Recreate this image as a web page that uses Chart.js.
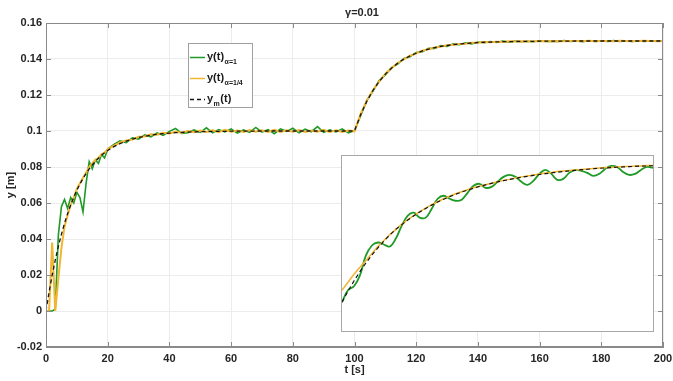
<!DOCTYPE html>
<html>
<head>
<meta charset="utf-8">
<script src="https://cdn.jsdelivr.net/npm/chart.js@4.4.1/dist/chart.umd.min.js"></script>
<style>
body { margin: 0; background: #fff; }
#wrap { position: relative; width: 673px; height: 381px; }
#inset { position: absolute; left: 341px; top: 155px; width: 311px; height: 175px; border: 1px solid #a8a8a8; background: #fff; }
#inset canvas { display: block; }
</style>
</head>
<body>
<div id="wrap">
  <canvas id="mainChart" width="673" height="381"></canvas>
  <div id="inset"><canvas id="zoomChart" width="311" height="175"></canvas></div>
</div>
<script>
// time axis [s]
var t = [0, 1, 2, 3, 4, 5, 6, 7, 8, 9, 10, 11, 12, 13, 14, 15, 16, 17, 18, 19, 20,
  22, 24, 26, 28, 30, 32, 34, 36, 38, 40, 42, 44, 46, 48, 50, 52, 54, 56, 58, 60,
  62, 64, 66, 68, 70, 72, 74, 76, 78, 80, 82, 84, 86, 88, 90, 92, 94, 96, 98, 100,
  102, 104, 106, 108, 110, 112, 114, 116, 118, 120, 122, 124, 126, 128, 130, 132, 134, 136, 138, 140,
  142, 144, 146, 148, 150, 152, 154, 156, 158, 160, 162, 164, 166, 168, 170, 172, 174, 176, 178, 180,
  182, 184, 186, 188, 190, 192, 194, 196, 198, 200];

// y(t) alpha=1
var yAlpha1 = [0, 0, 0, 0.001, 0.042, 0.058, 0.062, 0.057, 0.063, 0.060, 0.066, 0.063, 0.055, 0.071, 0.083, 0.079, 0.084, 0.082, 0.087, 0.085, 0.090,
  0.0925, 0.0945, 0.0936, 0.0962, 0.0955, 0.0978, 0.0968, 0.0990, 0.0976, 0.0998, 0.1014, 0.0986, 0.0991, 0.1006, 0.0992, 0.1018, 0.0990, 0.1008, 0.0995, 0.1012,
  0.0988, 0.1006, 0.0993, 0.1020, 0.0994, 0.1008, 0.0985, 0.1012, 0.0998, 0.1015, 0.0990, 0.1010, 0.0996, 0.1024, 0.0992, 0.1006, 0.0995, 0.1012, 0.0990, 0.1002,
  0.1085, 0.1170, 0.1222, 0.1280, 0.1312, 0.1352, 0.1372, 0.1403, 0.1413, 0.1436, 0.1440, 0.1460, 0.1458, 0.1474, 0.1470, 0.1484, 0.1479, 0.1490, 0.1484, 0.1494,
  0.1490, 0.1497, 0.1492, 0.1499, 0.1494, 0.1500, 0.1496, 0.1499, 0.1496, 0.1501, 0.1497, 0.1499, 0.1498, 0.1502, 0.1497, 0.1500, 0.1496, 0.1501, 0.1498, 0.1500,
  0.1497, 0.1502, 0.1498, 0.1500, 0.1497, 0.1501, 0.1498, 0.1501, 0.1499, 0.1500];

// y(t) alpha=1/4
var yAlphaQ = [0, 0, 0.038, 0, 0.018, 0.035, 0.047, 0.053, 0.059, 0.063, 0.068, 0.071, 0.074, 0.077, 0.080, 0.082, 0.084, 0.085, 0.087, 0.088, 0.090,
  0.0918, 0.0936, 0.0948, 0.0952, 0.0968, 0.0970, 0.0982, 0.0979, 0.0990, 0.0986, 0.0996, 0.0990, 0.1000, 0.0993, 0.1003, 0.0995, 0.1004, 0.0994, 0.1006, 0.0996,
  0.1003, 0.0994, 0.1005, 0.0996, 0.1004, 0.0995, 0.1006, 0.0995, 0.1004, 0.0996, 0.1005, 0.0995, 0.1003, 0.0996, 0.1006, 0.0995, 0.1004, 0.0994, 0.1003, 0.0998,
  0.1095, 0.1168, 0.1228, 0.1274, 0.1318, 0.1348, 0.1378, 0.1398, 0.1418, 0.1431, 0.1446, 0.1454, 0.1464, 0.1469, 0.1476, 0.1479, 0.1484, 0.1485, 0.1490, 0.1490,
  0.1494, 0.1493, 0.1496, 0.1495, 0.1498, 0.1497, 0.1499, 0.1497, 0.1499, 0.1498, 0.1500, 0.1498, 0.1500, 0.1499, 0.1500, 0.1500, 0.1499, 0.1501, 0.1499, 0.1500,
  0.1500, 0.1499, 0.1501, 0.1500, 0.1499, 0.1500, 0.1501, 0.1500, 0.1499, 0.1500];

// y_m(t) reference model
var yModel = [0, 0.0105, 0.0199, 0.0283, 0.0359, 0.0426, 0.0487, 0.0541, 0.0589, 0.0632, 0.0671, 0.0705, 0.0736, 0.0764, 0.0789, 0.0811, 0.0831, 0.0849, 0.0865, 0.0879, 0.0892,
  0.0913, 0.0930, 0.0944, 0.0955, 0.0964, 0.0971, 0.0977, 0.0982, 0.0985, 0.0988, 0.0991, 0.0992, 0.0994, 0.0995, 0.0996, 0.0997, 0.0998, 0.0998, 0.0998, 0.0999,
  0.0999, 0.0999, 0.0999, 0.1, 0.1, 0.1, 0.1, 0.1, 0.1, 0.1, 0.1, 0.1, 0.1, 0.1, 0.1, 0.1, 0.1, 0.1, 0.1, 0.1,
  0.1091, 0.1165, 0.1226, 0.1275, 0.1316, 0.1349, 0.1377, 0.1399, 0.1417, 0.1432, 0.1445, 0.1455, 0.1463, 0.1470, 0.1475, 0.1480, 0.1483, 0.1486, 0.1489, 0.1491,
  0.1493, 0.1494, 0.1495, 0.1496, 0.1497, 0.1497, 0.1498, 0.1498, 0.1498, 0.1499, 0.1499, 0.1499, 0.1499, 0.1499, 0.1499, 0.15, 0.15, 0.15, 0.15, 0.15,
  0.15, 0.15, 0.15, 0.15, 0.15, 0.15, 0.15, 0.15, 0.15, 0.15];

// inset (magnified view, no axes) - arbitrary units
var zx = [0, 6, 12, 18, 24, 30, 36, 42, 48, 54, 60, 66, 72, 78, 84, 90, 96, 102, 108, 114,
  120, 126, 132, 138, 144, 150, 156, 162, 168, 174, 180, 186, 192, 198, 204, 210, 216, 222, 228, 234,
  240, 246, 252, 258, 264, 270, 276, 282, 288, 294, 300, 306, 312];
var zAlpha1 = [29, 41, 45, 56, 76, 86, 89, 87, 85, 93, 106, 116, 119, 114, 114, 123, 133, 136, 133, 131,
  132, 139, 146, 148, 144, 145, 150, 155, 157, 155, 150, 147, 151, 158, 162, 158, 152, 153, 159, 162,
  161, 159, 156, 158, 163, 166, 165, 160, 157, 158, 162, 165, 164];
var zAlphaQ = [41, 49, 57, 64, 71, 78, 85, 91, 97, 102, 107.5, 112, 116, 120, 123.5, 127, 130, 133, 135.5, 138,
  140, 142, 144, 145.5, 147, 148.5, 150, 151.5, 152.5, 154, 155, 156, 157, 158, 159, 159.5, 160.5, 161, 161.5, 162,
  162.5, 163, 163.5, 164, 164.5, 164.5, 165, 165.5, 165.5, 166, 166, 166.5, 166.5];
var zModel = [29, 40.1, 50.3, 59.7, 68.4, 76.4, 83.7, 90.4, 96.6, 102.3, 107.0, 111.6, 115.8, 119.7, 123.3, 126.6, 129.7, 132.5, 135.1, 137.5,
  139.7, 141.7, 143.6, 145.4, 147.0, 148.5, 149.9, 151.2, 152.4, 153.5, 154.6, 155.6, 156.5, 157.4, 158.2, 159.0, 159.7, 160.4, 161.0, 161.6,
  162.2, 162.7, 163.2, 163.6, 164.0, 164.4, 164.7, 165.0, 165.3, 165.6, 165.8, 166.0, 166.2];

var plotTitle = "\u03b3=0.01";
var xLabel = "t [s]";
var yLabel = "y [m]";
var legendItems = [
  { main: "y(t)", sub: "\u03b1=1", tail: "" },
  { main: "y(t)", sub: "\u03b1=1/4", tail: "" },
  { main: "y", sub: "m", tail: "(t)" }
];

var GREEN = "#1f9a26";
var ORANGE = "#f1b531";
var BLACK = "#141414";
var FONT = "'Liberation Sans', Arial, sans-serif";

function pts(xs, ys) {
  return xs.map(function(x, i) { return { x: x, y: ys[i] }; });
}

var framePlugin = {
  id: "frame",
  afterDraw: function(chart) {
    var c = chart.ctx;
    var a = chart.chartArea;
    var xs = chart.scales.x;
    var ys = chart.scales.y;
    c.save();
    c.strokeStyle = "#8a8a8a";
    c.lineWidth = 1;
    c.strokeRect(a.left + 0.5, a.top + 0.5, a.right - a.left - 1, a.bottom - a.top - 1);
    c.beginPath();
    xs.ticks.forEach(function(tk) {
      var px = Math.round(xs.getPixelForValue(tk.value)) + 0.5;
      c.moveTo(px, a.bottom); c.lineTo(px, a.bottom - 5);
      c.moveTo(px, a.top); c.lineTo(px, a.top + 5);
    });
    ys.ticks.forEach(function(tk) {
      var py = Math.round(ys.getPixelForValue(tk.value)) + 0.5;
      c.moveTo(a.left, py); c.lineTo(a.left + 5, py);
      c.moveTo(a.right, py); c.lineTo(a.right - 5, py);
    });
    c.stroke();

    // title
    c.fillStyle = "#262626";
    c.font = "bold 11px " + FONT;
    c.textAlign = "center";
    c.textBaseline = "middle";
    c.fillText(plotTitle, 362, 13);

    // legend box
    var lx = 188, ly = 43, lw = 65, lh = 65;
    c.fillStyle = "#fff";
    c.fillRect(lx, ly, lw, lh);
    c.strokeStyle = "#a0a0a0";
    c.strokeRect(lx + 0.5, ly + 0.5, lw - 1, lh - 1);
    var ds = chart.data.datasets;
    var rows = [57, 78, 99];
    legendItems.forEach(function(it, i) {
      var d = ds[i];
      var y = rows[i];
      c.strokeStyle = d.borderColor;
      c.lineWidth = 1.5;
      c.setLineDash(d.borderDash || []);
      c.beginPath(); c.moveTo(190, y + 0.5); c.lineTo(205, y + 0.5); c.stroke();
      c.setLineDash([]);
      c.fillStyle = "#1a1a1a";
      c.textAlign = "left";
      c.textBaseline = "middle";
      c.font = "bold 11px " + FONT;
      var x = 207;
      c.fillText(it.main, x, y);
      x += c.measureText(it.main).width + 0.5;
      c.font = "bold 7px " + FONT;
      c.fillText(it.sub, x, y + 5);
      x += c.measureText(it.sub).width + 0.5;
      if (it.tail) {
        c.font = "bold 11px " + FONT;
        c.fillText(it.tail, x, y);
      }
    });
    c.restore();
  }
};

var tickFont = { family: FONT, size: 11, weight: "bold" };

var mainChart = new Chart(document.getElementById("mainChart").getContext("2d"), {
  type: "line",
  data: {
    datasets: [
      { label: "y(t) a=1", data: pts(t, yAlpha1), borderColor: GREEN, borderWidth: 1.6, order: 2 },
      { label: "y(t) a=1/4", data: pts(t, yAlphaQ), borderColor: ORANGE, borderWidth: 2, order: 1 },
      { label: "ym(t)", data: pts(t, yModel), borderColor: BLACK, borderWidth: 1.3, borderDash: [4, 3], order: 0 }
    ]
  },
  options: {
    responsive: false,
    animation: false,
    events: [],
    elements: { point: { radius: 0 }, line: { tension: 0 } },
    layout: { padding: { top: 23, right: 10, left: 0, bottom: 0 } },
    plugins: { legend: { display: false }, tooltip: { enabled: false }, title: { display: false } },
    scales: {
      x: {
        type: "linear", min: 0, max: 200,
        ticks: { stepSize: 20, padding: 5, color: "#262626", font: tickFont, maxRotation: 0 },
        grid: { color: "#ececec", drawTicks: false },
        border: { color: "#8a8a8a" },
        title: { display: true, text: xLabel, color: "#262626", font: tickFont },
        afterFit: function(s) { s.height = 34; s.paddingLeft = 0; s.paddingRight = 0; }
      },
      y: {
        type: "linear", min: -0.02, max: 0.16,
        ticks: { stepSize: 0.02, padding: 4, color: "#262626", font: tickFont,
          callback: function(v) { return String(+v.toFixed(2)); } },
        grid: { color: "#ececec", drawTicks: false },
        border: { color: "#8a8a8a" },
        title: { display: true, text: yLabel, color: "#262626", font: tickFont },
        afterFit: function(s) { s.width = 46; s.paddingTop = 0; s.paddingBottom = 0; }
      }
    }
  },
  plugins: [framePlugin]
});

var zoomChart = new Chart(document.getElementById("zoomChart").getContext("2d"), {
  type: "line",
  data: {
    datasets: [
      { data: pts(zx, zAlpha1), borderColor: GREEN, borderWidth: 1.8, tension: 0.4, order: 2 },
      { data: pts(zx, zAlphaQ), borderColor: ORANGE, borderWidth: 1.5, order: 1 },
      { data: pts(zx, zModel), borderColor: BLACK, borderWidth: 1.2, borderDash: [4, 3], order: 0 }
    ]
  },
  options: {
    responsive: false,
    animation: false,
    events: [],
    elements: { point: { radius: 0 } },
    layout: { padding: 0 },
    plugins: { legend: { display: false }, tooltip: { enabled: false } },
    scales: {
      x: { type: "linear", display: false, min: 0, max: 312 },
      y: { type: "linear", display: false, min: 0, max: 176 }
    }
  }
});
</script>
</body>
</html>
